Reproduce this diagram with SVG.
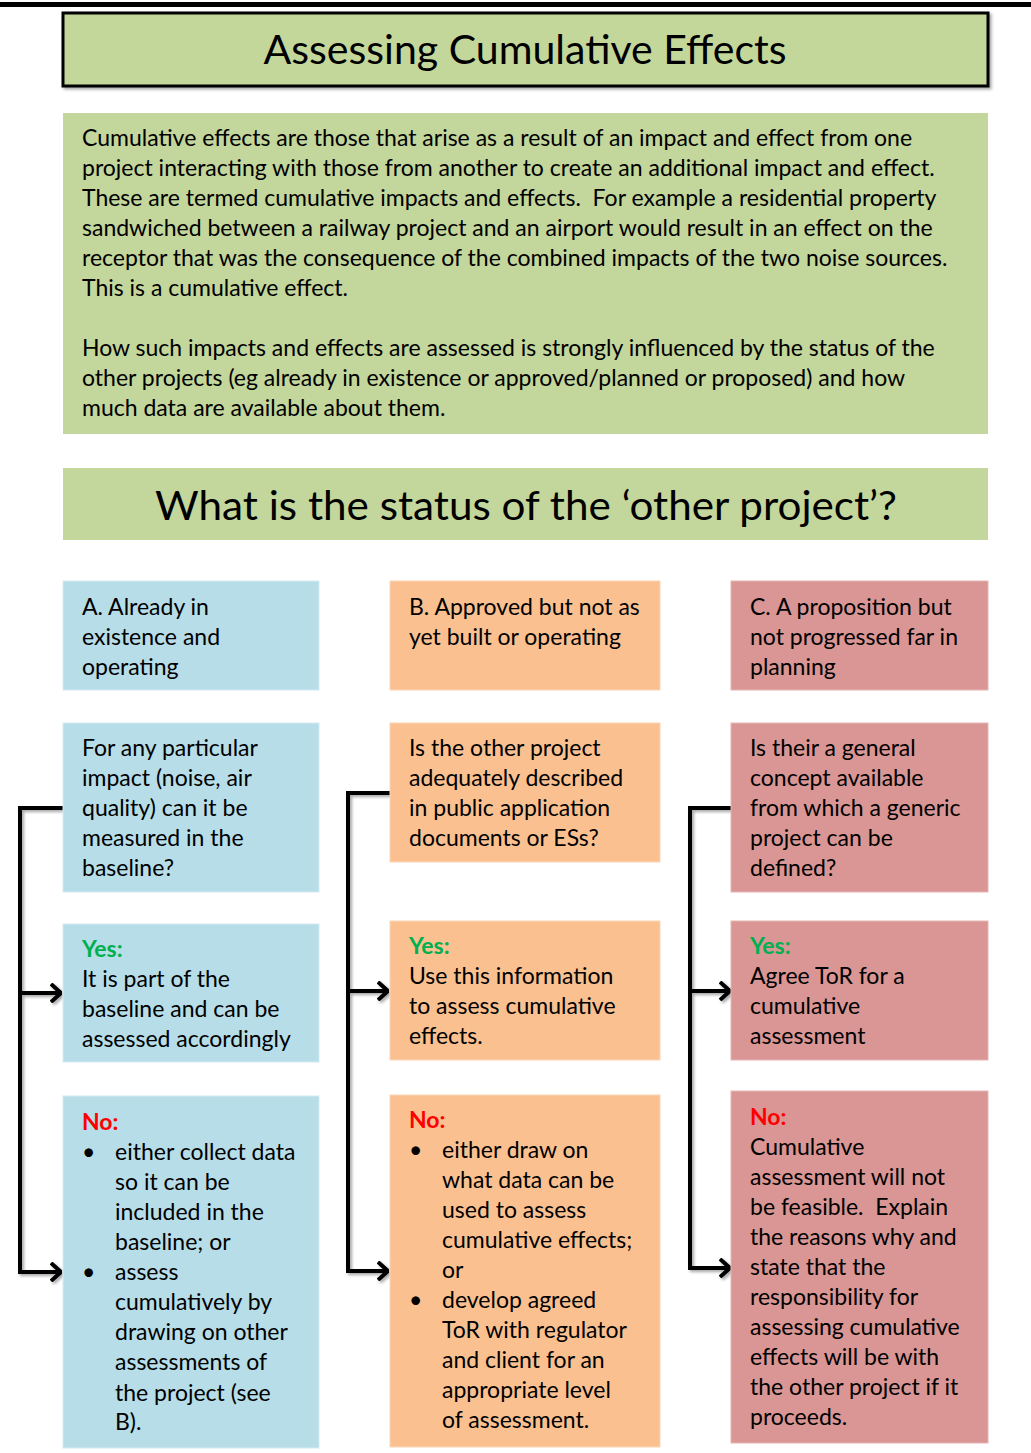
<svg xmlns="http://www.w3.org/2000/svg" width="1031" height="1453" viewBox="0 0 1031 1453">
<style>
text{font-family:Lato,"Open Sans","Liberation Sans",sans-serif;fill:#000}
.t{font-size:23px}
.h{font-size:40px}
.yes{fill:#00b050;font-weight:bold}
.no{fill:#ff0000;font-weight:bold}
.g{fill:#c3d69b}
.a{fill:#b7dde8;stroke:#d4ebf2;stroke-width:1}
.b{fill:#fac090;stroke:#fcd6b6;stroke-width:1}
.c{fill:#d99694;stroke:#e6b5b4;stroke-width:1}
.ln{fill:none;stroke:#000;stroke-width:4;stroke-linejoin:miter}
</style>
<defs>
<filter id="sh" x="-20%" y="-20%" width="140%" height="140%">
<feDropShadow dx="2" dy="2" stdDeviation="1.5" flood-color="#000" flood-opacity="0.35"/>
</filter>
<marker id="arr" viewBox="0 0 12 20" refX="11" refY="10" markerWidth="12" markerHeight="20" markerUnits="userSpaceOnUse" orient="auto">
<path d="M1,1 L11,10 L1,19" fill="none" stroke="#000" stroke-width="4"/>
</marker>
</defs>
<rect x="0" y="2" width="1031" height="5" fill="#000"/>
<g id="title">
<rect x="63" y="13" width="925" height="73" fill="#c4d79b" stroke="#000" stroke-width="3" filter="url(#sh)"/>
<text class="h" x="525" y="64" text-anchor="middle" textLength="523" lengthAdjust="spacingAndGlyphs">Assessing Cumulative Effects</text>
</g>
<g id="intro">
<rect class="g" x="63" y="113" width="925" height="321"/>
<text class="t" x="82">
<tspan x="82" y="146">Cumulative effects are those that arise as a result of an impact and effect from one</tspan>
<tspan x="82" y="176">project interacting with those from another to create an additional impact and effect.</tspan>
<tspan x="82" y="206">These are termed cumulative impacts and effects.&#160; For example a residential property</tspan>
<tspan x="82" y="236">sandwiched between a railway project and an airport would result in an effect on the</tspan>
<tspan x="82" y="266">receptor that was the consequence of the combined impacts of the two noise sources.</tspan>
<tspan x="82" y="296">This is a cumulative effect.</tspan>
<tspan x="82" y="356">How such impacts and effects are assessed is strongly influenced by the status of the</tspan>
<tspan x="82" y="386">other projects (eg already in existence or approved/planned or proposed) and how</tspan>
<tspan x="82" y="416">much data are available about them.</tspan>
</text>
</g>
<g id="question">
<rect class="g" x="63" y="468" width="925" height="72"/>
<text class="h" x="526" y="520" text-anchor="middle" textLength="742" lengthAdjust="spacingAndGlyphs">What is the status of the ‘other project’?</text>
</g>
<g id="connectors">
<g filter="url(#sh)">
<polyline class="ln" points="63,808 20,808 20,1272 61,1272" marker-end="url(#arr)"/>
<line class="ln" x1="20" y1="993" x2="61" y2="993" marker-end="url(#arr)"/>
<polyline class="ln" points="392,793 348,793 348,1271 388,1271" marker-end="url(#arr)"/>
<line class="ln" x1="348" y1="991" x2="388" y2="991" marker-end="url(#arr)"/>
<polyline class="ln" points="733,808 690,808 690,1268 730,1268" marker-end="url(#arr)"/>
<line class="ln" x1="690" y1="991" x2="730" y2="991" marker-end="url(#arr)"/>
</g>
</g>
<g id="a1">
<rect class="a" x="63" y="581" width="256" height="109"/>
<text class="t"><tspan x="82" y="615">A. Already in</tspan><tspan x="82" y="645">existence and</tspan><tspan x="82" y="675">operating</tspan></text>
</g>
<g id="a2">
<rect class="a" x="63" y="723" width="256" height="169"/>
<text class="t"><tspan x="82" y="756">For any particular</tspan><tspan x="82" y="786">impact (noise, air</tspan><tspan x="82" y="816">quality) can it be</tspan><tspan x="82" y="846">measured in the</tspan><tspan x="82" y="876">baseline?</tspan></text>
</g>
<g id="a3">
<rect class="a" x="63" y="924" width="256" height="138"/>
<text class="t"><tspan class="yes" x="82" y="957">Yes:</tspan><tspan x="82" y="987">It is part of the</tspan><tspan x="82" y="1017">baseline and can be</tspan><tspan x="82" y="1047">assessed accordingly</tspan></text>
</g>
<g id="a4">
<rect class="a" x="63" y="1096" width="256" height="352"/>
<text class="t"><tspan class="no" x="82" y="1130">No:</tspan>
<tspan x="82" y="1160">•</tspan><tspan x="115" y="1160">either collect data</tspan>
<tspan x="115" y="1190">so it can be</tspan><tspan x="115" y="1220">included in the</tspan><tspan x="115" y="1250">baseline; or</tspan>
<tspan x="82" y="1280">•</tspan><tspan x="115" y="1280">assess</tspan>
<tspan x="115" y="1310">cumulatively by</tspan><tspan x="115" y="1340">drawing on other</tspan><tspan x="115" y="1370">assessments of</tspan><tspan x="115" y="1401">the project (see</tspan><tspan x="115" y="1430">B).</tspan></text>
</g>
<g id="b1">
<rect class="b" x="390" y="581" width="270" height="109"/>
<text class="t"><tspan x="409" y="615">B. Approved but not as</tspan><tspan x="409" y="645">yet built or operating</tspan></text>
</g>
<g id="b2">
<rect class="b" x="390" y="723" width="270" height="139"/>
<text class="t"><tspan x="409" y="756">Is the other project</tspan><tspan x="409" y="786">adequately described</tspan><tspan x="409" y="816">in public application</tspan><tspan x="409" y="846">documents or ESs?</tspan></text>
</g>
<g id="b3">
<rect class="b" x="390" y="921" width="270" height="139"/>
<text class="t"><tspan class="yes" x="409" y="954">Yes:</tspan><tspan x="409" y="984">Use this information</tspan><tspan x="409" y="1014">to assess cumulative</tspan><tspan x="409" y="1044">effects.</tspan></text>
</g>
<g id="b4">
<rect class="b" x="390" y="1095" width="270" height="352"/>
<text class="t"><tspan class="no" x="409" y="1128">No:</tspan>
<tspan x="409" y="1158">•</tspan><tspan x="442" y="1158">either draw on</tspan>
<tspan x="442" y="1188">what data can be</tspan><tspan x="442" y="1218">used to assess</tspan><tspan x="442" y="1248">cumulative effects;</tspan><tspan x="442" y="1278">or</tspan>
<tspan x="409" y="1308">•</tspan><tspan x="442" y="1308">develop agreed</tspan>
<tspan x="442" y="1338">ToR with regulator</tspan><tspan x="442" y="1368">and client for an</tspan><tspan x="442" y="1398">appropriate level</tspan><tspan x="442" y="1428">of assessment.</tspan></text>
</g>
<g id="c1">
<rect class="c" x="731" y="581" width="257" height="109"/>
<text class="t"><tspan x="750" y="615">C. A proposition but</tspan><tspan x="750" y="645">not progressed far in</tspan><tspan x="750" y="675">planning</tspan></text>
</g>
<g id="c2">
<rect class="c" x="731" y="723" width="257" height="169"/>
<text class="t"><tspan x="750" y="756">Is their a general</tspan><tspan x="750" y="786">concept available</tspan><tspan x="750" y="816">from which a generic</tspan><tspan x="750" y="846">project can be</tspan><tspan x="750" y="876">defined?</tspan></text>
</g>
<g id="c3">
<rect class="c" x="731" y="921" width="257" height="139"/>
<text class="t"><tspan class="yes" x="750" y="954">Yes:</tspan><tspan x="750" y="984">Agree ToR for a</tspan><tspan x="750" y="1014">cumulative</tspan><tspan x="750" y="1044">assessment</tspan></text>
</g>
<g id="c4">
<rect class="c" x="731" y="1091" width="257" height="352"/>
<text class="t"><tspan class="no" x="750" y="1125">No:</tspan><tspan x="750" y="1155">Cumulative</tspan><tspan x="750" y="1185">assessment will not</tspan><tspan x="750" y="1215">be feasible.&#160; Explain</tspan><tspan x="750" y="1245">the reasons why and</tspan><tspan x="750" y="1275">state that the</tspan><tspan x="750" y="1305">responsibility for</tspan><tspan x="750" y="1335">assessing cumulative</tspan><tspan x="750" y="1365">effects will be with</tspan><tspan x="750" y="1395">the other project if it</tspan><tspan x="750" y="1425">proceeds.</tspan></text>
</g>
</svg>
